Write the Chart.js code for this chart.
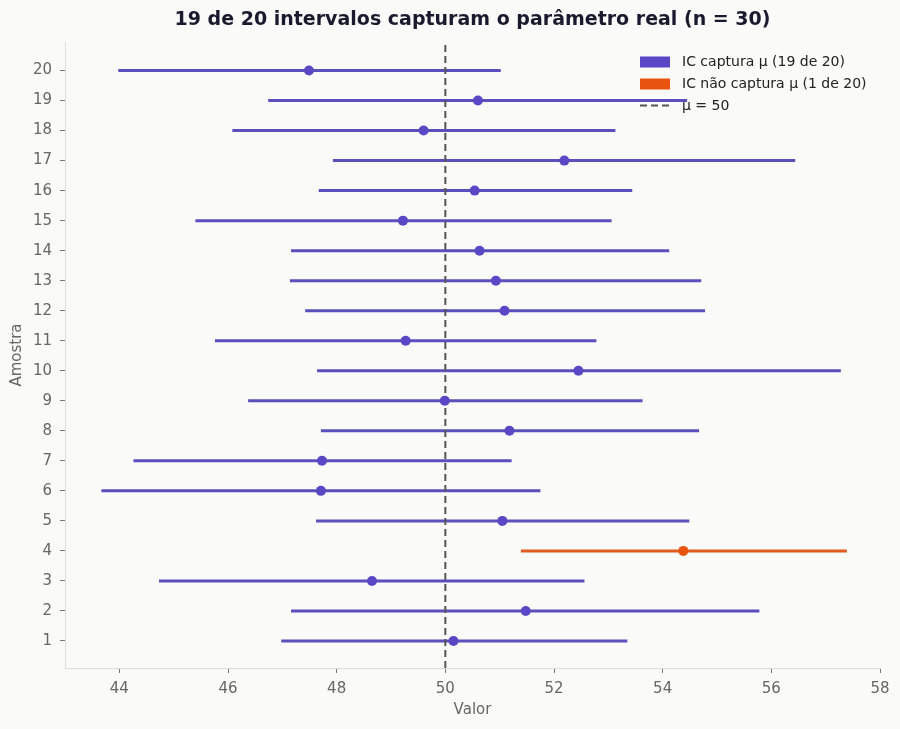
<!DOCTYPE html>
<html><head><meta charset="utf-8">
<script src="https://cdn.jsdelivr.net/npm/chart.js@4.4.1/dist/chart.umd.min.js"></script>
<style>html,body{margin:0;padding:0;background:#fafaf9;}#wrap{width:900px;height:729px;}</style>
</head><body><div id="wrap"><canvas id="c" width="900" height="729"></canvas></div>
<script>
// ---- data ----
const samples = [1,2,3,4,5,6,7,8,9,10,11,12,13,14,15,16,17,18,19,20];
const lower = [46.98,47.16,44.73,51.39,47.62,43.67,44.26,47.71,46.37,47.64,45.76,47.42,47.14,47.16,45.40,47.67,47.93,46.08,46.74,43.98];
const means = [50.15,51.48,48.65,54.38,51.05,47.71,47.73,51.18,49.99,52.45,49.27,51.09,50.93,50.63,49.22,50.54,52.19,49.60,50.60,47.49];
const upper = [53.35,55.78,52.56,57.39,54.49,51.75,51.22,54.67,53.63,57.28,52.78,54.78,54.71,54.12,53.06,53.44,56.44,53.13,54.45,51.02];
const mu = 50;
const xTicks = [44,46,48,50,52,54,56,58];
const yTicks = samples;
const titleText = '19 de 20 intervalos capturam o parâmetro real (n = 30)';
const legendLabels = ['IC captura μ (19 de 20)','IC não captura μ (1 de 20)','μ = 50'];

const PURPLE_LINE = '#5a4fbc';
const PURPLE_PT = '#5947c6';
const ORANGE_LINE = '#e05c1e';
const ORANGE_PT = '#e8540f';
const BG = '#fafaf9';

const captured = samples.map((s,i)=> lower[i] <= mu && upper[i] >= mu);

const datasets = [];
samples.forEach((s,i)=>{
  datasets.push({
    type:'scatter', showLine:true,
    data:[{x:lower[i],y:s},{x:upper[i],y:s}],
    borderColor: captured[i]?PURPLE_LINE:ORANGE_LINE,
    borderWidth:3, pointRadius:0, pointHoverRadius:0, order:3, borderCapStyle:'butt'
  });
});
datasets.push({
  type:'scatter', showLine:true,
  data:[{x:mu,y:0.1},{x:mu,y:20.95}],
  borderColor:'#555555', borderWidth:2, borderDash:[7,4], pointRadius:0, order:2
});
datasets.push({
  type:'scatter',
  data: samples.map((s,i)=>({x:means[i],y:s})).filter((p,i)=>captured[i]),
  backgroundColor:PURPLE_PT, borderColor:PURPLE_PT, pointRadius:5, borderWidth:0, order:1
});
datasets.push({
  type:'scatter',
  data: samples.map((s,i)=>({x:means[i],y:s})).filter((p,i)=>!captured[i]),
  backgroundColor:ORANGE_PT, borderColor:ORANGE_PT, pointRadius:5, borderWidth:0, order:1
});

const bgPlugin = {
  id:'bg',
  beforeDraw(chart){
    const ctx=chart.ctx; ctx.save(); ctx.fillStyle=BG; ctx.fillRect(0,0,chart.width,chart.height); ctx.restore();
  },
  beforeDatasetsDraw(chart){
    const ctx=chart.ctx, a=chart.chartArea;
    ctx.save();
    // title
    ctx.fillStyle='#1a1a2e';
    ctx.font='bold 19px "DejaVu Sans"';
    ctx.textAlign='center'; ctx.textBaseline='middle';
    ctx.fillText(titleText,(a.left+a.right)/2,20);
    // legend
    const lx=640, tx=682, ys=[62,84,105.5];
    ctx.font='14px "DejaVu Sans"'; ctx.textAlign='left';
    ctx.fillStyle=PURPLE_PT; ctx.fillRect(lx,ys[0]-5.5,30,11);
    ctx.fillStyle=ORANGE_PT; ctx.fillRect(lx,ys[1]-5.5,30,11);
    ctx.strokeStyle='#555'; ctx.lineWidth=2; ctx.setLineDash([7,4]);
    ctx.beginPath(); ctx.moveTo(lx,ys[2]); ctx.lineTo(lx+30,ys[2]); ctx.stroke();
    ctx.setLineDash([]);
    ctx.fillStyle='#222';
    legendLabels.forEach((t,i)=>ctx.fillText(t,tx,ys[i]+0.5));
    ctx.restore();
  }
};

Chart.defaults.font.family='"DejaVu Sans"';
new Chart(document.getElementById('c'),{
  type:'scatter',
  data:{datasets},
  plugins:[bgPlugin],
  options:{
    responsive:false, animation:false, devicePixelRatio:1,
    layout:{padding:{top:42,right:20,left:0,bottom:0}},
    plugins:{legend:{display:false},tooltip:{enabled:false},title:{display:false}},
    scales:{
      x:{type:'linear',min:43,max:58,
        afterBuildTicks(s){s.ticks=xTicks.map(v=>({value:v}));},
        afterFit(s){s.height=61;},
        grid:{display:true,drawOnChartArea:false,drawTicks:true,tickLength:5,tickColor:'#777'},
        border:{display:true,color:'#dddddd',width:1},
        ticks:{color:'#666',font:{size:15},padding:7,maxRotation:0},
        title:{display:true,text:'Valor',color:'#666',font:{size:15},padding:{top:0,bottom:10}}
      },
      y:{type:'linear',min:0.1,max:20.95,
        afterBuildTicks(s){s.ticks=yTicks.map(v=>({value:v}));},
        afterFit(s){s.width=65;},
        grid:{display:true,drawOnChartArea:false,drawTicks:true,tickLength:5,tickColor:'#777'},
        border:{display:true,color:'#dddddd',width:1},
        ticks:{color:'#666',font:{size:15},padding:8},
        title:{display:true,text:'Amostra',color:'#666',font:{size:15},padding:{top:8,bottom:0}}
      }
    }
  }
});
</script></body></html>
